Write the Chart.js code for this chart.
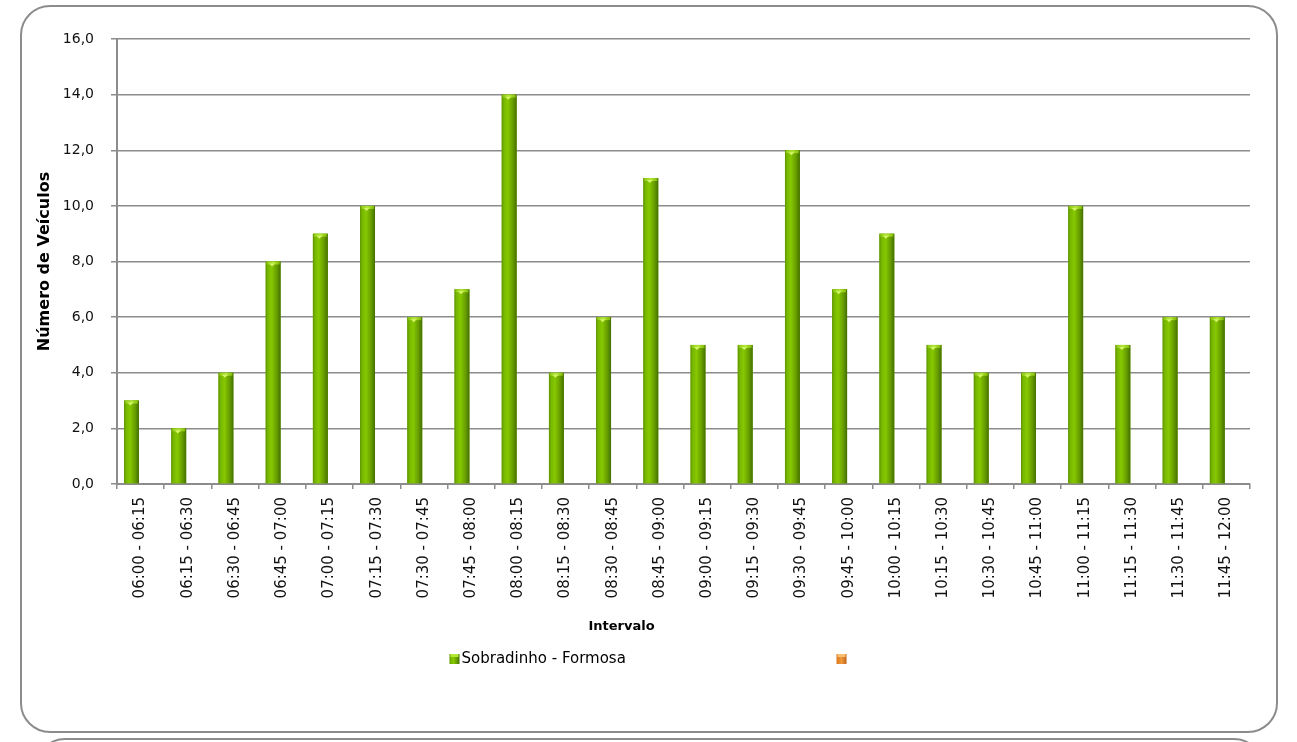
<!DOCTYPE html>
<html><head><meta charset="utf-8">
<script src="https://cdn.jsdelivr.net/npm/chart.js@4.4.1/dist/chart.umd.min.js"></script>
<style>
html,body{margin:0;padding:0;background:#fff;width:1297px;height:742px;overflow:hidden;}
#frame{position:absolute;left:20px;top:5px;width:1254px;height:724px;border:2px solid #8c8c8c;border-radius:30px;box-sizing:content-box;}
#frame2{position:absolute;left:35px;top:738px;width:1225px;height:100px;border:2px solid #8c8c8c;border-radius:30px;}
#wrap{position:absolute;left:0;top:0;width:1297px;height:742px;}
</style></head><body>
<div id="frame"></div><div id="frame2"></div>
<div id="wrap"><canvas id="c" width="1297" height="742"></canvas></div>
<script>
const categories = ['06:00 - 06:15','06:15 - 06:30','06:30 - 06:45','06:45 - 07:00','07:00 - 07:15','07:15 - 07:30','07:30 - 07:45','07:45 - 08:00','08:00 - 08:15','08:15 - 08:30','08:30 - 08:45','08:45 - 09:00','09:00 - 09:15','09:15 - 09:30','09:30 - 09:45','09:45 - 10:00','10:00 - 10:15','10:15 - 10:30','10:30 - 10:45','10:45 - 11:00','11:00 - 11:15','11:15 - 11:30','11:30 - 11:45','11:45 - 12:00'];
const sobradinhoFormosa = [3,2,4,8,9,10,6,7,14,4,6,11,5,5,12,7,9,5,4,4,10,5,6,6];
const secondSeries = [];
const seriesNames = ['Sobradinho - Formosa', ''];
const yTickLabels = ['0,0','2,0','4,0','6,0','8,0','10,0','12,0','14,0','16,0'];
const yTitle = 'Número de Veículos';
const xTitle = 'Intervalo';

const FONT = '"DejaVu Sans", sans-serif';

function greenGrad(ctx, l, r){
  const g = ctx.createLinearGradient(l,0,r,0);
  g.addColorStop(0,'#5e9300');
  g.addColorStop(0.15,'#78b800');
  g.addColorStop(0.4,'#86c800');
  g.addColorStop(0.75,'#669c00');
  g.addColorStop(1,'#446f00');
  return g;
}

const barShade = {
  id:'barShade',
  afterDatasetDraw(chart, args){
    if(args.index!==0) return;
    const ctx = chart.ctx;
    args.meta.data.forEach(bar=>{
      const p = bar.getProps(['x','y','base','width'], true);
      const l = p.x - p.width/2, r = p.x + p.width/2;
      ctx.save();
      ctx.fillStyle = greenGrad(ctx,l,r);
      ctx.fillRect(l, p.y, p.width, p.base - p.y);
      const cg = ctx.createLinearGradient(l,0,r,0);
      cg.addColorStop(0,'#88c410'); cg.addColorStop(0.5,'#b4e838'); cg.addColorStop(1,'#7cb400');
      ctx.fillStyle = cg;
      ctx.fillRect(l+1, p.y, p.width-2, 3);
      ctx.fillStyle = '#d4f46a';
      ctx.beginPath();
      ctx.moveTo(p.x-4, p.y+2); ctx.lineTo(p.x+2, p.y+2); ctx.lineTo(p.x-1, p.y+5); ctx.closePath();
      ctx.fill();
      ctx.restore();
    });
  }
};

const extras = {
  id:'extras',
  afterDraw(chart){
    const ctx = chart.ctx, xs = chart.scales.x;
    ctx.save();
    ctx.fillStyle = '#000';
    ctx.font = 'bold 13px ' + FONT;
    ctx.textAlign = 'center'; ctx.textBaseline = 'middle';
    ctx.fillText(xTitle, chart.width/2 - 27, xs.bottom - 12);
    // legend
    const ly = xs.bottom + 20;
    const x1 = chart.width/2 - 199, x2 = x1 + 387;
    ctx.fillStyle = greenGrad(ctx, x1, x1+10);
    ctx.fillRect(x1, ly-5, 10, 10);
    ctx.fillStyle = '#b4e838'; ctx.fillRect(x1+1, ly-5, 8, 3);
    ctx.fillStyle = '#000'; ctx.font = '15px ' + FONT; ctx.textAlign = 'left';
    ctx.fillText(seriesNames[0], x1 + 12, ly);
    const og = ctx.createLinearGradient(x2,0,x2+10,0);
    og.addColorStop(0,'#d9781e'); og.addColorStop(0.5,'#f09a3c'); og.addColorStop(1,'#c0661a');
    ctx.fillStyle = og; ctx.fillRect(x2, ly-5, 10, 10);
    ctx.fillStyle = '#f8c070'; ctx.fillRect(x2+1, ly-5, 8, 3);
    ctx.fillText(seriesNames[1], x2 + 12, ly);
    ctx.restore();
  }
};

new Chart(document.getElementById('c'), {
  type:'bar',
  data:{
    labels: categories,
    datasets:[
      {label: seriesNames[0], data: sobradinhoFormosa, backgroundColor:'#74b000', borderWidth:0, barPercentage:0.82, categoryPercentage:0.77},
      {label: seriesNames[1], data: secondSeries, backgroundColor:'#e8882c', borderWidth:0, barPercentage:0.82, categoryPercentage:0.77}
    ]
  },
  options:{
    responsive:false,
    animation:false,
    layout:{padding:{left:32, right:47, top:39, bottom:103}},
    plugins:{legend:{display:false}, tooltip:{enabled:false}},
    scales:{
      x:{
        type:'category', offset:true,
        grid:{offset:true, drawOnChartArea:false, drawTicks:true, tickLength:5, color:'#8c8c8c', lineWidth:1.5},
        border:{display:true, color:'#8c8c8c', width:2},
        ticks:{autoSkip:false, maxRotation:90, minRotation:90, padding:8, color:'#111', font:{family:FONT, size:15}},
        afterFit(s){ s.height = 155; }
      },
      y:{
        min:0, max:16,
        ticks:{stepSize:2, padding:17, color:'#111', font:{family:FONT, size:14}, callback:(v,i)=>yTickLabels[i]},
        grid:{color:'#8c8c8c', lineWidth:1.5, tickLength:6, drawTicks:true},
        border:{display:true, color:'#8c8c8c', width:2},
        title:{display:true, text:yTitle, color:'#000', font:{family:FONT, size:16, weight:'bold'}, padding:3},
        afterFit(s){ s.width = 85; }
      }
    }
  },
  plugins:[barShade, extras]
});
</script>
</body></html>
